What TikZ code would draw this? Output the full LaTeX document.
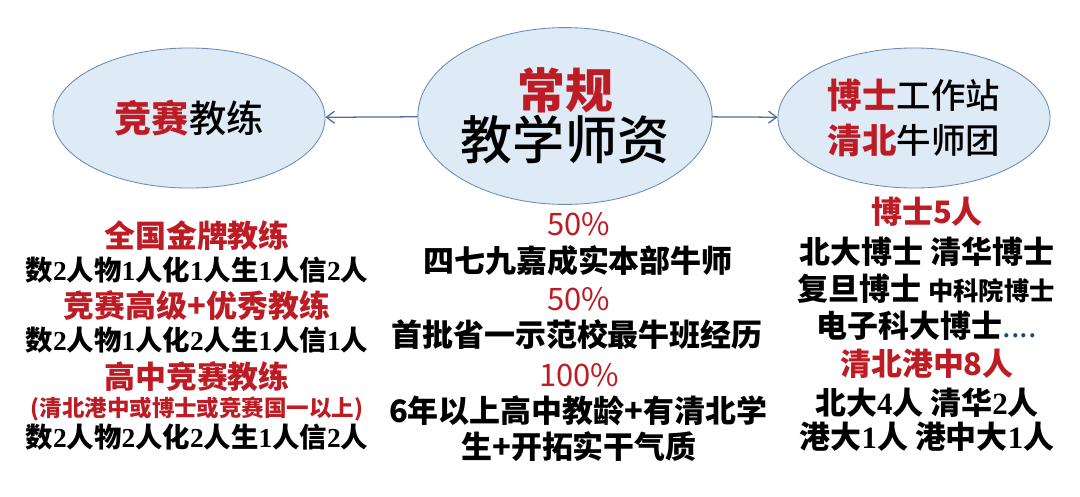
\documentclass[tikz,border=0pt]{standalone}
\usepackage{fontspec}
\usepackage{xcolor}
\usepackage{tikz}
\usetikzlibrary{positioning,arrows.meta,shapes.geometric}
\newfontfamily\cjk{Noto Sans CJK SC}
\newfontfamily\cjkm{Noto Sans CJK SC}[UprightFont={* Medium}]
\newfontfamily\serifdig{Liberation Serif}
\newcommand\dig[1]{{\serifdig\bfseries #1}}
\newcommand\rojob[1]{{\cjk\bfseries\color{rojo}#1}}
\definecolor{rojo}{RGB}{190,28,36}
\definecolor{relleno}{RGB}{222,234,246}
\definecolor{borde}{RGB}{105,140,180}
\definecolor{flecha}{RGB}{80,110,150}
\definecolor{puntos}{RGB}{31,73,125}

\begin{document}
\begin{tikzpicture}[x=0.025cm, y=-0.025cm,
  burbuja/.style={ellipse, draw=borde, fill=relleno, line width=0.6pt,
    inner sep=0pt, align=center},
  linea/.style={inner sep=0pt, font=\cjk\bfseries\fontsize{22}{26}\selectfont},
  lineachica/.style={inner sep=0pt, font=\cjk\bfseries\fontsize{19.5}{24}\selectfont},
  titulo/.style={linea, text=rojo},
  cifra/.style={inner sep=0pt, text=rojo, font=\cjk\fontsize{22}{26}\selectfont},
  rel/.style={-{Straight Barb[length=2mm, width=3mm]}, draw=flecha, line width=0.9pt}
]
\useasboundingbox (0,0) rectangle (1080,496);
% Burbujas
\node[burbuja, minimum width=6.8cm, minimum height=3.5cm,
  font=\cjkm\fontsize{26.5}{30}\selectfont] (izq) at (189,118)
  {\rojob{竞赛}教练};
\node[burbuja, minimum width=7cm, minimum height=4.42cm,
  font=\cjkm\fontsize{37}{40}\selectfont] (centro) at (565,116)
  {\rojob{\fontsize{34}{38}\selectfont 常规}\\[-4pt]
   教学师资};
\node[burbuja, minimum width=6.8cm, minimum height=3.5cm,
  font=\cjkm\fontsize{24.5}{32}\selectfont] (der) at (914,118)
  {\rojob{博士}工作站\\
   \rojob{清北}牛师团};
% Relaciones
\draw[rel] (centro) -- (izq);
\draw[rel] (centro) -- (der);
% Columna izquierda
\node[titulo]     (i1) at (197,236) {全国金牌教练};
\node[lineachica] (i2) at (197,270) {数\dig{2}人物\dig{1}人化\dig{1}人生\dig{1}人信\dig{2}人};
\node[titulo]     (i3) at (197,306) {竞赛高级+优秀教练};
\node[lineachica] (i4) at (197,340) {数\dig{2}人物\dig{1}人化\dig{2}人生\dig{1}人信\dig{1}人};
\node[titulo]     (i5) at (197,377) {高中竞赛教练};
\node[titulo, font=\cjk\bfseries\fontsize{16}{19}\selectfont] (i6) at (197,409)
  {(清北港中或博士或竞赛国一以上)};
\node[lineachica] (i7) at (197,437) {数\dig{2}人物\dig{2}人化\dig{2}人生\dig{1}人信\dig{2}人};
% Columna central
\node[cifra] (c1) at (579,224) {50\%};
\node[linea] (c2) at (578,261) {四七九嘉成实本部牛师};
\node[cifra] (c3) at (579,299) {50\%};
\node[linea] (c4) at (577,335) {首批省一示范校最牛班经历};
\node[cifra] (c5) at (579,375) {100\%};
\node[linea] (c6) at (578,411) {6年以上高中教龄+有清北学};
\node[linea] (c7) at (579,447) {生+开拓实干气质};
% Columna derecha
\node[titulo] (d1) at (927,212) {博士5人};
\node[linea]  (d2) at (927,252) {北大博士 清华博士};
\node[linea]  (d3) at (926,289) {复旦博士 {\fontsize{18}{22}\selectfont 中科院博士}};
\node[linea]  (d4) at (927,326) {电子科大博士\textcolor{puntos}{\mdseries....}};
\node[titulo] (d5) at (927,364) {清北港中8人};
\node[linea]  (d6) at (927,403) {北大\dig{4}人 清华\dig{2}人};
\node[linea]  (d7) at (927,437) {港大\dig{1}人 港中大\dig{1}人};
\end{tikzpicture}
\end{document}
